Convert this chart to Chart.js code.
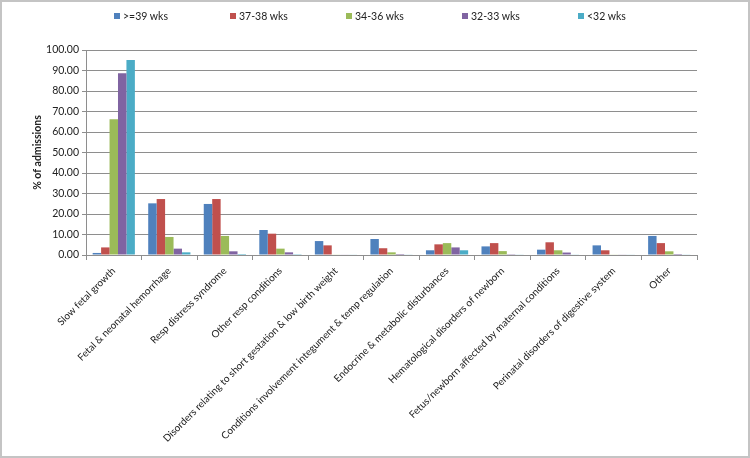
<!DOCTYPE html>
<html>
<head>
<meta charset="utf-8">
<script src="https://cdn.jsdelivr.net/npm/chart.js@4"></script>
<style>
  body { margin: 0; background: #fff; }
  #frame { position: relative; width: 750px; height: 458px; box-sizing: border-box; border: 2px solid #c4c4c4; background: #fff; }
  #legend { position: absolute; left: 112px; top: 8px; display: flex; font: 10.5px Lato, "Liberation Sans", sans-serif; color: #222; }
  #legend .item { width: 116px; display: flex; align-items: center; }
  #legend .box { width: 6px; height: 6px; margin-right: 3px; }
</style>
</head>
<body>
<div id="frame">
  <canvas id="chart" width="746" height="454"></canvas>
  <div id="legend"></div>
</div>
<script>
// categories along the x axis
var categories = [
    "Slow fetal growth",
    "Fetal & neonatal hemorrhage",
    "Resp distress syndrome",
    "Other resp conditions",
    "Disorders relating to short gestation & low birth weight",
    "Conditions involvement integument & temp regulation",
    "Endocrine & metabolic disturbances",
    "Hematological disorders of newborn",
    "Fetus/newborn affected by maternal conditions",
    "Perinatal disorders of digestive system",
    "Other"
];

// % of admissions per gestational age group
var wks39plus = [1.0, 25.2, 24.9, 12.2, 6.8, 7.8, 2.3, 4.2, 2.6, 4.7, 9.3];
var wks37_38  = [3.7, 27.3, 27.3, 10.4, 4.7, 3.3, 5.2, 5.8, 6.2, 2.3, 5.8];
var wks34_36  = [66.2, 8.8, 9.3, 3.1, 0.3, 1.3, 5.8, 1.9, 2.3, 0.3, 1.8];
var wks32_33  = [88.6, 3.1, 1.8, 1.3, 0.2, 0.5, 3.7, 0.4, 1.2, 0.3, 0.5];
var wksUnder32 = [95.1, 1.3, 0.5, 0.4, 0.2, 0.3, 2.3, 0.3, 0.3, 0.2, 0.3];

var seriesNames = [">=39 wks", "37-38 wks", "34-36 wks", "32-33 wks", "<32 wks"];
var seriesColors = ["#4F81BD", "#C0504D", "#9BBB59", "#8064A2", "#4BACC6"];

var yTicks = [0, 10, 20, 30, 40, 50, 60, 70, 80, 90, 100];

var allSeries = [wks39plus, wks37_38, wks34_36, wks32_33, wksUnder32];
var datasets = allSeries.map(function(vals, i){
    return {
        label: seriesNames[i],
        data: vals,
        backgroundColor: seriesColors[i],
        borderWidth: 0,
        categoryPercentage: 0.76,
        barPercentage: 1.0
    };
});

// html legend, built from the datasets
var htmlLegend = {
    id: 'htmlLegend',
    afterUpdate: function(chart){
        var box = document.getElementById('legend');
        box.innerHTML = '';
        chart.data.datasets.forEach(function(ds){
            var item = document.createElement('div');
            item.className = 'item';
            var sw = document.createElement('span');
            sw.className = 'box';
            sw.style.background = ds.backgroundColor;
            item.appendChild(sw);
            item.appendChild(document.createTextNode(ds.label));
            box.appendChild(item);
        });
    }
};

var font = "Lato, 'Liberation Sans', sans-serif";

new Chart(document.getElementById('chart'), {
    type: 'bar',
    data: { labels: categories, datasets: datasets },
    plugins: [htmlLegend],
    options: {
        responsive: false,
        animation: false,
        layout: { padding: { left: 25, top: 48, right: 51, bottom: 0 } },
        plugins: {
            legend: { display: false },
            tooltip: { enabled: false }
        },
        scales: {
            x: {
                afterFit: function(s){ s.height = 201; },
                grid: { offset: true, drawOnChartArea: false, tickLength: 5, color: '#8e8e8e' },
                border: { color: '#8e8e8e' },
                ticks: {
                    autoSkip: false,
                    maxRotation: 45,
                    minRotation: 45,
                    padding: 5,
                    color: '#222',
                    font: { family: font, size: 10 }
                }
            },
            y: {
                min: 0,
                max: 100,
                afterFit: function(s){ s.width = 59; },
                afterBuildTicks: function(s){ s.ticks = yTicks.map(function(v){ return { value: v }; }); },
                grid: { color: '#8e8e8e', tickLength: 4 },
                border: { color: '#8e8e8e' },
                title: {
                    display: true,
                    text: '% of admissions',
                    color: '#222',
                    font: { family: font, size: 10.5, weight: 'bold' }
                },
                ticks: {
                    padding: 3,
                    color: '#222',
                    font: { family: font, size: 10.5 },
                    callback: function(v){ return Number(v).toFixed(2); }
                }
            }
        }
    }
});
</script>
</body>
</html>
